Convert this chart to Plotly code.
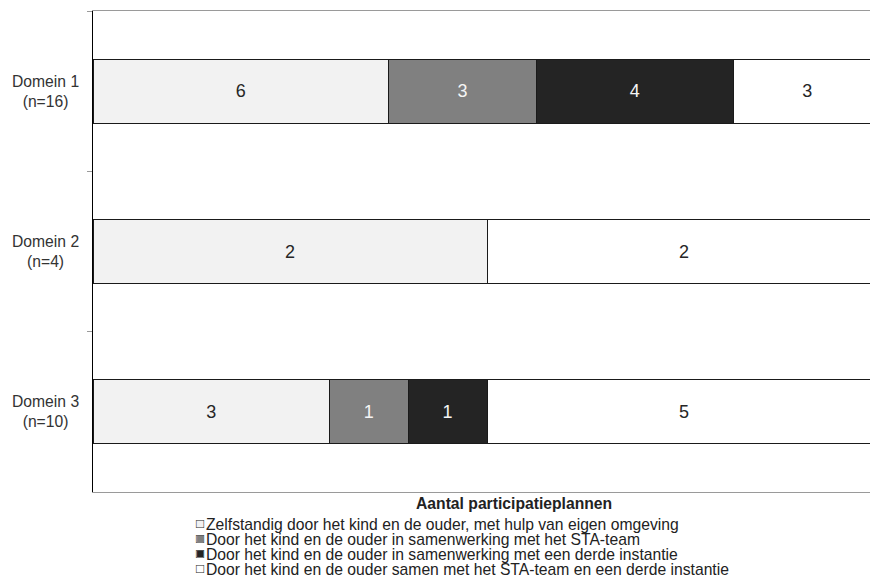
import plotly.graph_objects as go

# ---------------- data ----------------
categories = ["Domein 1", "Domein 2", "Domein 3"]
n_labels = ["(n=16)", "(n=4)", "(n=10)"]
series_names = [
    "Zelfstandig door het kind en de ouder, met hulp van eigen omgeving",
    "Door het kind en de ouder in samenwerking met het STA-team",
    "Door het kind en de ouder in samenwerking met een derde instantie",
    "Door het kind en de ouder samen met het STA-team en een derde instantie",
]
zelfstandig = [6, 2, 3]
sta_team = [3, 0, 1]
derde_instantie = [4, 0, 1]
sta_en_derde = [3, 2, 5]
axis_title = "Aantal participatieplannen"

# ---------------- styles ----------------
fill_colors = ["#f2f2f2", "#808080", "#242424", "#ffffff"]
text_colors = ["#262626", "#f5f5f5", "#f5f5f5", "#262626"]
FONT = "Arial, Liberation Sans, sans-serif"
FS = 15.7

W, H = 870, 582
ML, MR, MT, MB = 93, 0, 10.7, H - 491.7
plot_w = W - ML - MR
plot_h = H - MT - MB
full_bar_px = 788  # pixel length of a 100% bar (extends past the right edge)


def px_x(px):
    return (px - ML) / plot_w


def px_y(py):
    return (H - MB - py) / plot_h


fig = go.Figure()
series_values = [zelfstandig, sta_team, derde_instantie, sta_en_derde]
for name, vals, fc, tc in zip(series_names, series_values, fill_colors, text_colors):
    fig.add_trace(go.Bar(
        y=categories,
        x=vals,
        orientation="h",
        name=name,
        marker=dict(color=fc, line=dict(color="#1a1a1a", width=1)),
        text=[str(v) if v else "" for v in vals],
        texttemplate="%{text}",
        textposition="inside",
        insidetextanchor="middle",
        textangle=0,
        constraintext="none",
        textfont=dict(family=FONT, size=18, color=tc),
        showlegend=False,
    ))

annotations = []
# category labels (centered two-line labels)
for cat, nl in zip(categories, n_labels):
    annotations.append(dict(
        text=f"{cat}<br>{nl}", xref="paper", yref="y", x=px_x(45), y=cat,
        xanchor="center", yanchor="middle", align="center", showarrow=False,
        font=dict(family=FONT, size=FS, color="#333333"),
    ))

# axis title
annotations.append(dict(
    text=f"<b>{axis_title}</b>", xref="paper", yref="paper",
    x=px_x(514), y=px_y(503), xanchor="center", yanchor="middle",
    showarrow=False, font=dict(family=FONT, size=FS, color="#222222"),
))

# legend rows
row_centers = [524, 539, 554, 569]
for name, fc, yc in zip(series_names, fill_colors, row_centers):
    annotations.append(dict(
        text="■", xref="paper", yref="paper", x=px_x(195), y=px_y(yc - 1),
        xanchor="left", yanchor="middle", showarrow=False, borderpad=0,
        font=dict(family=FONT, size=13.5, color=fc),
    ))
    annotations.append(dict(
        text="□", xref="paper", yref="paper", x=px_x(195), y=px_y(yc - 1),
        xanchor="left", yanchor="middle", showarrow=False, borderpad=0,
        font=dict(family=FONT, size=13.5, color="#1a1a1a"),
    ))
    annotations.append(dict(
        text=name, xref="paper", yref="paper", x=px_x(205), y=px_y(yc),
        xanchor="left", yanchor="middle", showarrow=False, borderpad=0,
        font=dict(family=FONT, size=FS, color="#222222"),
    ))

fig.update_layout(
    width=W, height=H,
    margin=dict(l=ML, r=MR, t=MT, b=MB, pad=0),
    barmode="stack",
    barnorm="percent",
    bargap=0.6,
    plot_bgcolor="white",
    paper_bgcolor="white",
    showlegend=False,
    font=dict(family=FONT, size=FS, color="#222222"),
    annotations=annotations,
    xaxis=dict(
        range=[0, 100 * plot_w / full_bar_px],
        showticklabels=False, ticks="", showgrid=False, zeroline=False,
        showline=True, linecolor="#9a9a9a", linewidth=1, mirror=True,
        fixedrange=True,
    ),
    yaxis=dict(
        autorange="reversed",
        showticklabels=False,
        ticks="outside", ticklen=5, tickcolor="#9a9a9a", tickwidth=1,
        tickson="boundaries",
        showgrid=False, zeroline=False,
        showline=True, linecolor="#000000", linewidth=1,
        fixedrange=True,
    ),
)

fig.write_html(
    "out.html",
    config={"displayModeBar": False},
    post_script="document.body.style.margin='0';document.body.style.overflow='hidden';",
)
